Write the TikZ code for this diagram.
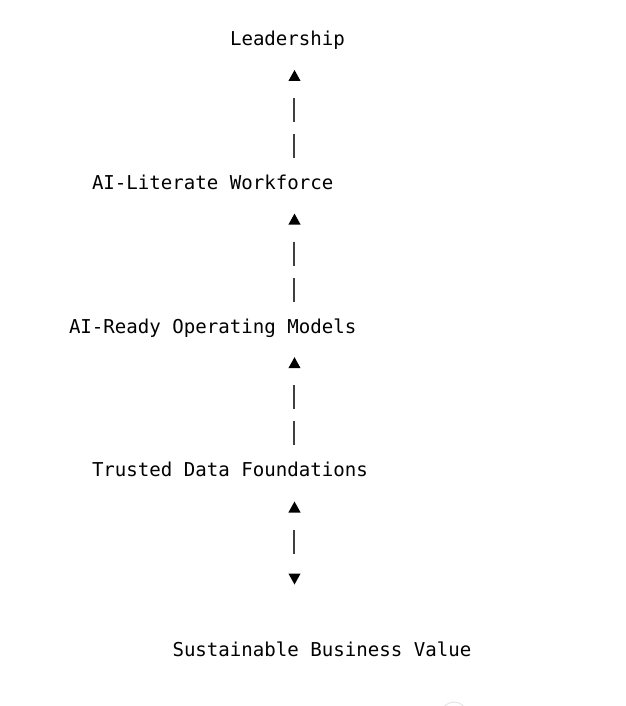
\documentclass[tikz,border=0pt]{standalone}
\usepackage{fontspec}
\setmonofont{DejaVu Sans Mono}
\begin{document}
\begin{tikzpicture}[x=1pt,y=-1pt,
  label/.style={anchor=base west,inner sep=0pt,outer sep=0pt,font=\ttfamily\fontsize{19.1pt}{22pt}\selectfont,text=black},
  bar/.style={draw=black!75,line width=1.6pt},
  tri/.style={fill=black}]
\useasboundingbox[fill=white] (0,0) rectangle (625,706);
% text lines (monospace grid: column width 11.5, row height 35.9)
\node[label] (lead) at (230,46) {Leadership};
\node[label] (work) at (92,189.6) {AI-Literate Workforce};
\node[label] (ops)  at (69,333.2) {AI-Ready Operating Models};
\node[label] (data) at (92,476.8) {Trusted Data Foundations};
\node[label] (val)  at (172.5,656.3) {Sustainable Business Value};
% upward arrows
\foreach \o in {0,143.6,287.2} {
  \fill[tri] (294.5,70+\o) -- (300.6,81+\o) -- (288.4,81+\o) -- cycle;
  \draw[bar] (293.8,98+\o) -- (293.8,122+\o);
  \draw[bar] (293.8,134+\o) -- (293.8,158+\o);
}
% double arrow between data foundations and business value
\coordinate (dtop) at (294.5,501.5);
\fill[tri] (dtop) -- ++(6.1,11) -- ++(-12.2,0) -- cycle;
\draw[bar] (293.8,530) -- (293.8,553.5);
\coordinate (dbot) at (294.5,584.5);
\fill[tri] (dbot) -- ++(6.1,-11) -- ++(-12.2,0) -- cycle;
% faint arc at the bottom edge
\draw[black!12,line width=0.8pt] (454,715) circle (13);
\end{tikzpicture}
\end{document}
